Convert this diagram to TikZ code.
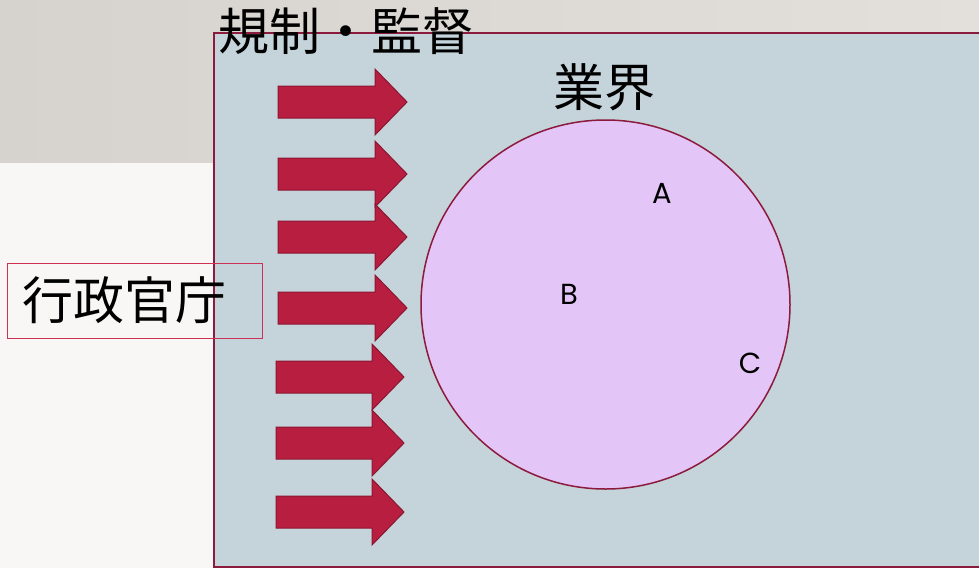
\documentclass[tikz,border=0pt]{standalone}
\usepackage{fontspec}
\setmainfont{Poppins}
\newfontfamily\jpfont{Noto Sans CJK JP}
\definecolor{slidegrey}{RGB}{214,211,206}
\definecolor{slidegreylight}{RGB}{227,224,220}
\definecolor{slidewhite}{RGB}{249,247,245}
\definecolor{panelblue}{RGB}{196,212,218}
\definecolor{paneledge}{RGB}{140,26,60}
\definecolor{pushred}{RGB}{184,30,64}
\definecolor{pushedge}{RGB}{140,22,50}
\definecolor{circlelilac}{RGB}{227,198,247}
\definecolor{boxred}{RGB}{204,48,82}

\begin{document}
\begin{tikzpicture}[x=1pt,y=-1pt,
  jplabel/.style={font=\jpfont\fontsize{51}{60}\selectfont, inner sep=0pt},
  firm/.style={font=\fontsize{29}{32}\selectfont, inner sep=0pt},
  push/.style={fill=pushred, draw=pushedge, line width=1pt, line join=miter}]
\def\panel{(214,33) rectangle (982,567)}
\def\industry{(605.5,304.5) circle (184.5pt)}

\useasboundingbox (0,0) rectangle (979,568);

% slide background
\fill[slidewhite] (0,0) rectangle (979,568);
\shade[left color=slidegrey, right color=slidegreylight] (0,0) rectangle (979,162);

\draw[fill=panelblue, draw=paneledge, line width=1.5pt] \panel;

% regulation arrows
\foreach \tx/\ty/\hx/\px in {278/102/375/407, 278/174/375/407, 278/237/375/407, 278/308/375/407,
                            276/377/372/404, 276/443/372/404, 276/512/372/404}
  \draw[push] (\tx,\ty-16) -- (\hx,\ty-16) -- (\hx,\ty-33) -- (\px,\ty)
      -- (\hx,\ty+33) -- (\hx,\ty+16) -- (\tx,\ty+16) -- cycle;

\draw[fill=circlelilac, draw=paneledge, line width=1.5pt] \industry;

\node[jplabel] (kisei) at (346,31) {規制・監督};
\node[jplabel] (gyokai) at (604,87) {業界};
\node[jplabel, draw=boxred, line width=0.8pt, inner xsep=15pt, text width=225pt,
      minimum height=75pt, align=left, anchor=west] (gyosei) at (7,300.5) {行政官庁};

\node[firm] (firmA) at (662,193) {A};
\node[firm] (firmB) at (569,294) {B};
\node[firm] (firmC) at (750,363) {C};
\end{tikzpicture}
\end{document}
